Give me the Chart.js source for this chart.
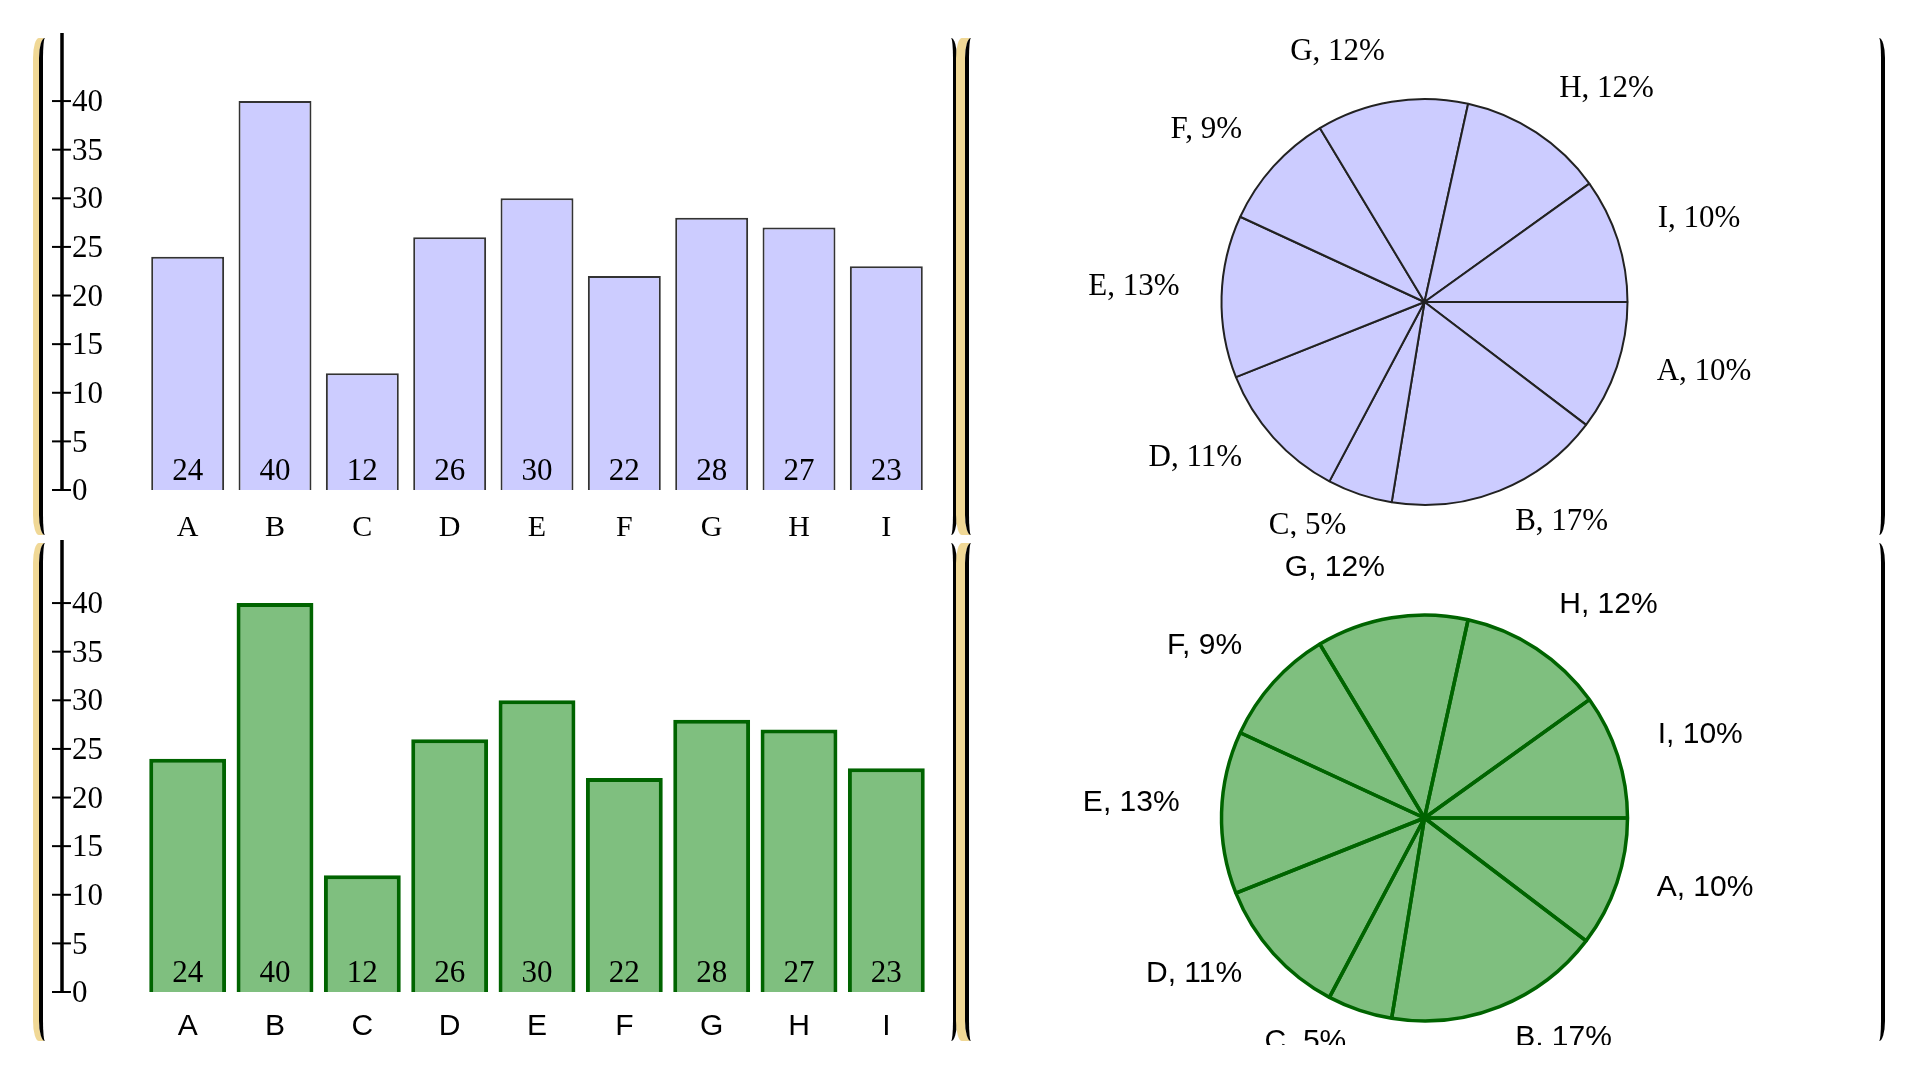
<!DOCTYPE html>
<html><head><meta charset="utf-8">
<script src="https://cdn.jsdelivr.net/npm/chart.js@4.4.1/dist/chart.umd.min.js"></script>
<style>
html,body{margin:0;padding:0;background:#fff;width:1920px;height:1080px;overflow:hidden;}
.panel{position:absolute;box-sizing:border-box;border-left:4px solid #000;border-right:4px solid #000;border-radius:6px / 20px;}
.l{box-shadow:-6px 0 0 #f0d896;}
.r{box-shadow:-9px 0 0 #f0d896;}
canvas{position:absolute;}
</style></head><body>
<div class="panel l" style="left:39px;top:38px;width:918px;height:497px"></div>
<div class="panel r" style="left:965px;top:38px;width:920px;height:497px"></div>
<div class="panel l" style="left:39px;top:543px;width:918px;height:498px"></div>
<div class="panel r" style="left:965px;top:543px;width:920px;height:498px"></div>
<canvas id="bar1" width="910" height="505" style="left:43px;top:33px"></canvas>
<canvas id="pie1" width="913" height="505" style="left:968px;top:33px"></canvas>
<canvas id="bar2" width="910" height="505" style="left:43px;top:535px"></canvas>
<canvas id="pie2" width="913" height="507" style="left:968px;top:538px"></canvas>
<script>
const categories = ['A','B','C','D','E','F','G','H','I'];
const values = [24,40,12,26,30,22,28,27,23];
const yTicks = [0,5,10,15,20,25,30,35,40];
const yMax = 47;

const SERIF = '"Liberation Serif", "Times New Roman", serif';
const SANS = '"Liberation Sans", Arial, sans-serif';

const yAxisPlugin = {
  id: 'yAxisCustom',
  afterDraw(chart, args, opts) {
    const {ctx, chartArea} = chart;
    const y = chart.scales.y;
    const x0 = chartArea.left - opts.offset;
    const y0 = y.getPixelForValue(0);
    ctx.save();
    ctx.strokeStyle = '#000';
    ctx.lineWidth = 3.5;
    ctx.beginPath(); ctx.moveTo(x0, chartArea.top + opts.lineInset); ctx.lineTo(x0, y0); ctx.stroke();
    ctx.lineWidth = 2;
    ctx.font = opts.font;
    ctx.fillStyle = '#000';
    ctx.textAlign = 'left';
    ctx.textBaseline = 'middle';
    yTicks.forEach(t => {
      const py = y.getPixelForValue(t);
      ctx.beginPath(); ctx.moveTo(x0 - 10, py); ctx.lineTo(x0 + 9, py); ctx.stroke();
      ctx.fillText(String(t), x0 + 10, py + 2);
    });
    ctx.restore();
  }
};

const barLabelPlugin = {
  id: 'barLabels',
  afterDatasetsDraw(chart, args, opts) {
    const {ctx} = chart;
    const meta = chart.getDatasetMeta(0);
    const data = chart.data.datasets[0].data;
    ctx.save();
    ctx.font = opts.font;
    ctx.fillStyle = '#000';
    ctx.textAlign = 'center';
    ctx.textBaseline = 'alphabetic';
    meta.data.forEach((bar, i) => {
      ctx.fillText(String(data[i]), bar.x, bar.base - 10);
    });
    ctx.restore();
  }
};

const pieLabelPlugin = {
  id: 'pieLabels',
  afterDatasetsDraw(chart, args, opts) {
    const {ctx} = chart;
    const meta = chart.getDatasetMeta(0);
    const data = chart.data.datasets[0].data;
    const total = data.reduce((a, b) => a + b, 0);
    ctx.save();
    ctx.font = opts.font;
    ctx.fillStyle = '#000';
    ctx.textBaseline = 'alphabetic';
    meta.data.forEach((arc, i) => {
      const a = (arc.startAngle + arc.endAngle) / 2;
      const r = arc.outerRadius + opts.gap;
      const x = arc.x + r * Math.cos(a);
      const y = arc.y + r * Math.sin(a);
      ctx.textAlign = Math.cos(a) >= 0 ? 'left' : 'right';
      ctx.fillText(chart.data.labels[i] + ', ' + Math.round(data[i] / total * 100) + '%', x, y);
    });
    ctx.restore();
  }
};

function barChart(id, fill, stroke, bw, pct, xFont, xPad, lineInset) {
  return new Chart(document.getElementById(id), {
    type: 'bar',
    data: { labels: categories, datasets: [{ data: values, backgroundColor: fill, borderColor: stroke, borderWidth: bw, barPercentage: pct, categoryPercentage: 1 }] },
    options: {
      responsive: false, animation: false, devicePixelRatio: 1,
      layout: { padding: { left: 101, right: 23, top: 0, bottom: 0 } },
      plugins: {
        legend: { display: false }, tooltip: { enabled: false },
        yAxisCustom: { offset: 82, font: '31px ' + SERIF, lineInset: lineInset },
        barLabels: { font: '31px ' + SERIF }
      },
      scales: {
        y: { display: false, min: 0, max: yMax },
        x: {
          grid: { display: false, drawTicks: false }, border: { display: false },
          ticks: { font: { family: xFont, size: 30 }, color: '#000', padding: xPad, maxRotation: 0 },
          afterFit(s) { s.height = 48; }
        }
      }
    },
    plugins: [yAxisPlugin, barLabelPlugin]
  });
}

function pieChart(id, fill, stroke, bw, padTop, padBottom, font) {
  return new Chart(document.getElementById(id), {
    type: 'pie',
    data: { labels: categories, datasets: [{ data: values, backgroundColor: fill, borderColor: stroke, borderWidth: bw }] },
    options: {
      responsive: false, animation: false, devicePixelRatio: 1,
      rotation: 90, radius: 203,
      layout: { padding: { left: 0, right: 0, top: padTop, bottom: padBottom } },
      plugins: {
        legend: { display: false }, tooltip: { enabled: false },
        pieLabels: { font: font, gap: 42 }
      }
    },
    plugins: [pieLabelPlugin]
  });
}

barChart('bar1', '#ccccff', '#333333', 2, 0.835, SERIF, 20, 0);
pieChart('pie1', '#ccccff', '#222222', 2, 33, 0, '31px ' + SERIF);
barChart('bar2', 'rgba(0,128,0,0.5)', '#006400', 4, 0.88, SANS, 17, 5);
pieChart('pie2', 'rgba(0,128,0,0.5)', '#006400', 3.5, 57, 4, '30px ' + SANS);
</script>
</body></html>
